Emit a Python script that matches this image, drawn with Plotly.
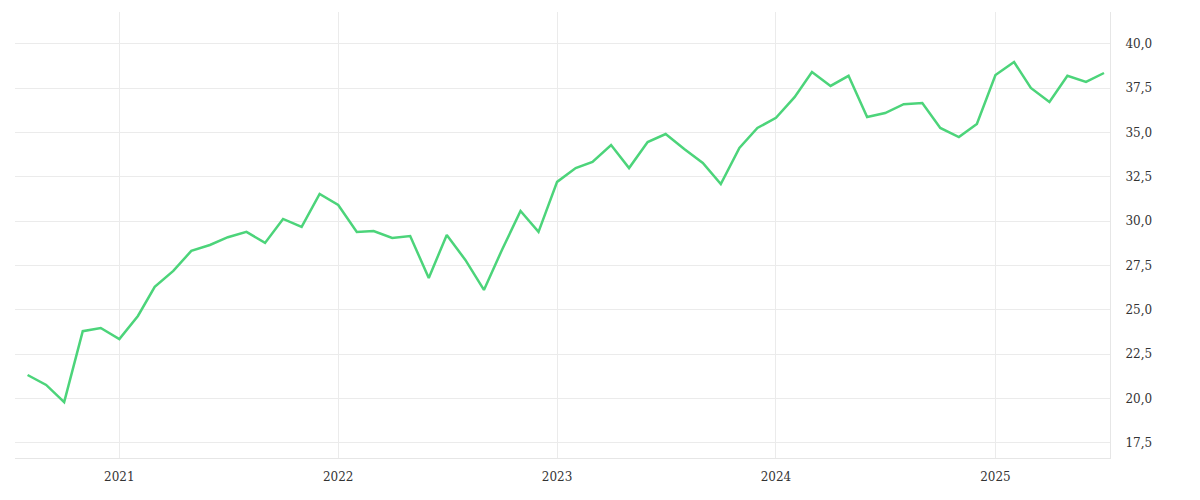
import plotly.graph_objects as go
import pandas as pd

dates = pd.date_range("2020-08-01", "2025-07-01", freq="MS")
values = [21.33, 20.77, 19.8, 23.8, 23.98, 23.36, 24.66, 26.3, 27.2, 28.33, 28.66, 29.1,
          29.4, 28.78, 30.13, 29.68, 31.54, 30.92, 29.4, 29.45, 29.06, 29.17, 26.8, 29.23,
          27.82, 26.13, 28.38, 30.58, 29.4, 32.22, 33.0, 33.34, 34.3, 33.0, 34.47, 34.92,
          34.08, 33.29, 32.1, 34.13, 35.26, 35.83, 37.0, 38.42, 37.63, 38.2, 35.88, 36.1,
          36.6, 36.67, 35.26, 34.75, 35.49, 38.25, 38.98, 37.52, 36.73, 38.2, 37.86, 38.36]
year_ticks = ["2021-01-01", "2022-01-01", "2023-01-01", "2024-01-01", "2025-01-01"]
year_labels = ["2021", "2022", "2023", "2024", "2025"]
y_ticks = [17.5, 20, 22.5, 25, 27.5, 30, 32.5, 35, 37.5, 40]

fig = go.Figure(go.Scatter(x=dates, y=values, mode="lines",
                           line=dict(color="#4cd47a", width=2.5)))
fig.update_layout(
    width=1200, height=500, separators=",.",
    paper_bgcolor="white", plot_bgcolor="white",
    margin=dict(l=7, r=98, t=4, b=50),
    showlegend=False,
    font=dict(family="DejaVu Serif", size=12, color="#333"),
)
fig.update_xaxes(range=["2020-07-11", "2025-07-11"], tickvals=year_ticks, ticktext=year_labels,
                 showgrid=True, gridcolor="#ebebeb", showline=True, linecolor="#e6e6e6",
                 zeroline=False, ticks="", ticklabelstandoff=8)
fig.update_yaxes(side="right", range=[16.65, 41.8], tickvals=y_ticks, tickformat=".1f",
                 showgrid=True, gridcolor="#ebebeb", showline=True, linecolor="#e6e6e6",
                 zeroline=False, ticks="", ticklabelstandoff=12)
fig.write_html("out.html")
